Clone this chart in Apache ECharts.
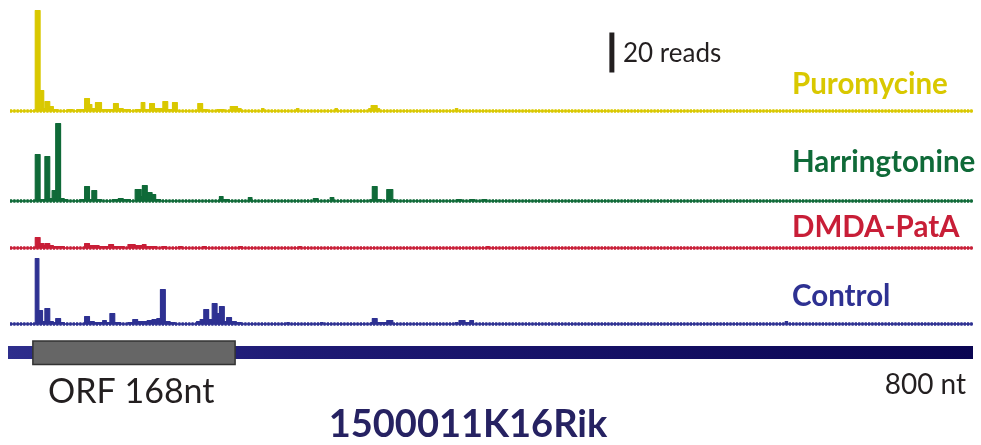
<!DOCTYPE html>
<html>
<head>
<meta charset="utf-8">
<script src="https://cdn.jsdelivr.net/npm/echarts@6/dist/echarts.min.js"></script>
<style>
html,body{margin:0;padding:0;background:#fff;}
#chart{width:981px;height:445px;}
</style>
</head>
<body>
<div id="chart"></div>
<script>
// ---- data (position in nt, reads; each value holds until the next position) ----
var trackNames = ['Puromycine', 'Harringtonine', 'DMDA-PatA', 'Control'];

var puroPos = [0,21,25,28,29,33,36,40,48,52,56,60,62,66,68,71,76,80,86,90,94,100,104,109,112,116,120,124,127,131,135,139,150,156,160,164,172,178,183,189,192,209,211,238,240,270,272,298,300,305,307,370,372,800];
var puroVal = [0,50,10,1,4.5,2,0.5,0,0.5,0,0.5,0.5,6,3,1,4,0.5,0.5,3.5,1,0.5,0,0.5,4,0.5,3.5,1,1,4.5,0.5,4,0,0,3.5,0.5,0,0.5,0,2,1,0,1,0,1,0,1,0,1,2.5,1,0,1,0,0];

var harrPos = [0,21,25,29,33,35,38,42,45,48,58,62,66,68,72,76,85,90,94,100,104,109,110,114,118,121,125,174,177,182,198,201,252,256,266,269,299,301,305,309,313,318,320,371,375,382,386,392,396,800];
var harrVal = [0,23,0.5,22,1,5,38.5,1,0.5,0,0.5,7,0.5,5,0.5,0,0.5,1,0.5,0,5.5,2,7.5,4,3,0.5,0,2,0.5,0,1.5,0,1,0,1.5,0,0.5,7,0.5,0,5.5,0.5,0,0.5,0,0.5,0,0.5,0,0];

var dmdaPos = [0,21,25,28,29,33,36,45,62,66,70,74,82,86,90,95,98,104,110,113,117,122,126,130,140,143,160,163,190,193,240,242,396,398,800];
var dmdaVal = [0,5,2,1,2,1,0.5,0,2,1,1,0.5,1.5,0.5,0.5,0,1.5,1,1.5,0.5,0.5,0,0.5,0,0.5,0,0.5,0,0.5,0,0.5,0,0.5,0,0];

var ctrlPos = [0,21,24,27,29,33,36,38,42,45,62,66,70,77,80,83,87,92,98,102,106,110,114,118,122,125,129,133,137,155,158,161,165,168,172,174,178,180,184,188,192,230,232,258,260,300,301,305,313,318,370,372,373,378,382,385,644,646,800];
var ctrlVal = [0,32.5,6.5,1,7.5,1,0.5,2.5,0.5,0,3.5,1,0.5,1.5,0.5,5,0.5,0,0.5,2,1,1,1.5,2,2.5,17,1,0.5,0,1,2,7,2,10,5,8.5,1,3,1,0.5,0,0.5,0,0.5,0,0.5,2.5,0.5,1.5,0,0.5,0,1.5,0.5,1.5,0,1,0,0];

var geneStart = 0, geneEnd = 800;
var orfStart = 19, orfEnd = 187;
var scaleBarAt = 500, scaleBarFrom = 19, scaleBarReads = 20;

var labelGene = '1500011K16Rik';
var labelOrf = 'ORF 168nt';
var labelLen = '800 nt';
var labelScale = '20 reads';

// ---- layout ----
var colors = ['#d9c800', '#0f6a38', '#c81e37', '#2e3192'];
var baselines = [110.5, 200.5, 247.5, 323.5];
var heights = [100, 80, 30, 70];
var pxPerRead = 2;
var X0 = 10, XW = 963;

// step segments: each value holds from its position to the next one
function segments(p, v) {
  var out = [];
  for (var k = 0; k + 1 < p.length; k++) {
    if (v[k] > 0) out.push([p[k], p[k + 1], v[k]]);
  }
  return out;
}
var trackData = [segments(puroPos, puroVal), segments(harrPos, harrVal), segments(dmdaPos, dmdaVal), segments(ctrlPos, ctrlVal)];

function stepRender(color) {
  return function (params, api) {
    var a = api.coord([api.value(0), 0]);
    var b = api.coord([api.value(1), api.value(2)]);
    return {type: 'rect', shape: {x: a[0], y: b[1], width: b[0] - a[0], height: a[1] - b[1]},
      style: {fill: color, stroke: color, lineWidth: 1.2, lineJoin: 'round'}};
  };
}

var grids = [], xAxes = [], yAxes = [], series = [];
for (var i = 0; i < 4; i++) {
  grids.push({left: X0, width: XW, top: baselines[i] - heights[i], height: heights[i]});
  xAxes.push({type: 'value', gridIndex: i, min: 0, max: 800, show: false});
  yAxes.push({type: 'value', gridIndex: i, min: 0, max: heights[i] / pxPerRead, show: false});
  series.push({
    type: 'custom', xAxisIndex: i, yAxisIndex: i, data: trackData[i],
    renderItem: stepRender(colors[i]), clip: false, silent: true, animation: false,
    markLine: {silent: true, symbol: 'none', label: {show: false}, animation: false,
      data: [
        {yAxis: 0, lineStyle: {color: colors[i], width: 2, type: 'solid', opacity: 0.85}},
        {yAxis: 0, lineStyle: {color: colors[i], width: 3.5, type: [2.2, 1.1]}}
      ]}
  });
}
// scale bar in the Puromycine track
series.push({
  type: 'custom', xAxisIndex: 0, yAxisIndex: 0, silent: true, animation: false, clip: false,
  data: [[scaleBarAt, scaleBarFrom, scaleBarFrom + scaleBarReads]],
  renderItem: function (params, api) {
    var a = api.coord([api.value(0), api.value(1)]);
    var b = api.coord([api.value(0), api.value(2)]);
    return {type: 'rect', shape: {x: a[0] - 2.5, y: b[1], width: 5, height: a[1] - b[1]}, style: {fill: '#231f20'}};
  }
});
// gene model grid
grids.push({left: X0, width: XW, top: 335, height: 35});
xAxes.push({type: 'value', gridIndex: 4, min: 0, max: 800, show: false});
yAxes.push({type: 'value', gridIndex: 4, min: 0, max: 1, show: false});
series.push({
  type: 'custom', xAxisIndex: 4, yAxisIndex: 4, silent: true, animation: false, clip: false,
  data: [[geneStart, geneEnd, 0], [orfStart, orfEnd, 1]],
  renderItem: function (params, api) {
    var a = api.coord([api.value(0), 0.5]);
    var b = api.coord([api.value(1), 0.5]);
    if (api.value(2) === 0) {
      return {type: 'rect', shape: {x: a[0] - 2, y: a[1] - 6.5, width: b[0] - a[0] + 2, height: 13},
        style: {fill: new echarts.graphic.LinearGradient(0, 0, 1, 0, [
          {offset: 0, color: '#2e2e8c'}, {offset: 0.3, color: '#1e1a74'}, {offset: 1, color: '#0a0552'}])}};
    }
    return {type: 'rect', shape: {x: a[0], y: a[1] - 11.5, width: b[0] - a[0], height: 23.5},
      style: {fill: '#666666', stroke: '#333333', lineWidth: 1.5}};
  }
});

var txt = function (x, y, text, font, fill, align) {
  return {type: 'text', x: x, y: y, silent: true,
    style: {text: text, font: font, fill: fill, textAlign: align || 'left', textVerticalAlign: 'middle'}};
};
var labelY = [84, 162.5, 227, 296];
var graphics = [];
for (var j = 0; j < 4; j++) {
  graphics.push(txt(792, labelY[j], trackNames[j], 'bold 29.5px Lato', colors[j]));
}
graphics.push(txt(623, 54, labelScale, '26px Lato', '#231f20'));
graphics.push(txt(48, 392, labelOrf, '34px Lato', '#231f20'));
graphics.push(txt(966, 384.5, labelLen, '28px Lato', '#231f20', 'right'));
graphics.push(txt(468, 425, labelGene, 'bold 38px Lato', '#262262', 'center'));

var chart = echarts.init(document.getElementById('chart'), null, {renderer: 'canvas'});
chart.setOption({
  animation: false,
  grid: grids, xAxis: xAxes, yAxis: yAxes, series: series, graphic: graphics
});
</script>
</body>
</html>
